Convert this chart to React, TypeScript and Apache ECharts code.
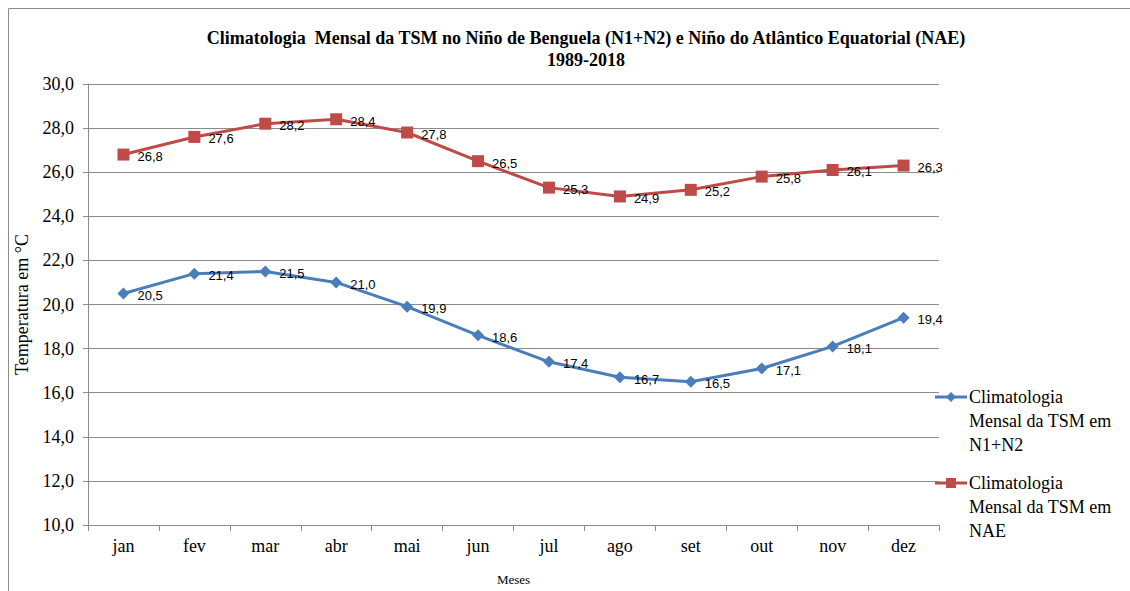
import React, { useEffect, useRef } from "react";
import * as echarts from "echarts";

const months = ["jan", "fev", "mar", "abr", "mai", "jun", "jul", "ago", "set", "out", "nov", "dez"];
const n1n2 = [20.5, 21.4, 21.5, 21.0, 19.9, 18.6, 17.4, 16.7, 16.5, 17.1, 18.1, 19.4];
const nae = [26.8, 27.6, 28.2, 28.4, 27.8, 26.5, 25.3, 24.9, 25.2, 25.8, 26.1, 26.3];
const seriesNames = ["Climatologia Mensal da TSM em N1+N2", "Climatologia Mensal da TSM em NAE"];
const legendLines = [
  ["Climatologia", "Mensal da TSM em", "N1+N2"],
  ["Climatologia", "Mensal da TSM em", "NAE"],
];
const titleText =
  "Climatologia  Mensal da TSM no Niño de Benguela (N1+N2) e Niño do Atlântico Equatorial (NAE)\n1989-2018";
const yAxisName = "Temperatura em °C";
const xAxisName = "Meses";

const BLUE = "#4A7EBB";
const RED = "#BE4B48";
const GRAY = "#8c8c8c";
const SERIF = "'Liberation Serif', 'Times New Roman', serif";
const SANS = "'Liberation Sans', Arial, sans-serif";

const fmt = (v: number) => v.toFixed(1).replace(".", ",");

export default function App() {
  const ref = useRef<HTMLDivElement>(null);
  useEffect(() => {
    if (!ref.current) return;
    const chart = echarts.init(ref.current, null, { renderer: "svg" });
    const legendGraphic = (idx: number, y0: number, color: string, symbol: "diamond" | "square") => {
      const children: any[] = [
        { type: "line", shape: { x1: 935, y1: y0, x2: 967, y2: y0 }, style: { stroke: color, lineWidth: 3 } },
        symbol === "square"
          ? { type: "rect", shape: { x: 946, y: y0 - 5, width: 10, height: 10 }, style: { fill: color } }
          : {
              type: "polygon",
              shape: { points: [[951, y0 - 5], [956, y0], [951, y0 + 5], [946, y0]] },
              style: { fill: color },
            },
      ];
      legendLines[idx].forEach((t, i) => {
        children.push({
          type: "text",
          x: 969,
          y: y0 + i * 24,
          style: { text: t, font: `18px ${SERIF}`, fill: "#000", textAlign: "left", textVerticalAlign: "middle" },
        });
      });
      return children;
    };
    chart.setOption({
      animation: false,
      backgroundColor: "#fff",
      grid: { left: 88, right: 191, top: 84, bottom: 60, containLabel: false },
      xAxis: {
        type: "category",
        data: months,
        boundaryGap: true,
        name: xAxisName,
        nameLocation: "middle",
        nameGap: 48,
        nameTextStyle: { fontFamily: SERIF, fontSize: 13, color: "#000" },
        axisLine: { show: true, lineStyle: { color: GRAY, width: 1 } },
        axisTick: { show: true, length: 6, lineStyle: { color: GRAY } },
        axisLabel: { fontFamily: SERIF, fontSize: 18, color: "#000", margin: 12 },
        splitLine: { show: false },
      },
      yAxis: {
        type: "value",
        min: 10,
        max: 30,
        interval: 2,
        name: yAxisName,
        nameLocation: "middle",
        nameGap: 57,
        nameRotate: 90,
        nameTextStyle: { fontFamily: SERIF, fontSize: 18, color: "#000" },
        axisLine: { show: true, lineStyle: { color: GRAY, width: 1 } },
        axisTick: { show: true, length: 5, lineStyle: { color: GRAY } },
        axisLabel: { fontFamily: SERIF, fontSize: 18, color: "#000", margin: 14, formatter: (v: number) => fmt(v) },
        splitLine: { show: true, lineStyle: { color: GRAY, width: 1 } },
      },
      series: [
        {
          name: seriesNames[0],
          type: "line",
          data: n1n2,
          symbol: "diamond",
          symbolSize: 12,
          itemStyle: { color: BLUE },
          lineStyle: { color: BLUE, width: 3 },
          label: {
            show: true,
            position: "right",
            distance: 8,
            offset: [0, 2],
            formatter: (p: any) => fmt(p.value),
            fontFamily: SANS,
            fontSize: 13,
            color: "#000",
          },
        },
        {
          name: seriesNames[1],
          type: "line",
          data: nae,
          symbol: "rect",
          symbolSize: 12,
          itemStyle: { color: RED },
          lineStyle: { color: RED, width: 3 },
          label: {
            show: true,
            position: "right",
            distance: 8,
            offset: [0, 2],
            formatter: (p: any) => fmt(p.value),
            fontFamily: SANS,
            fontSize: 13,
            color: "#000",
          },
        },
      ],
      graphic: [
        { type: "line", shape: { x1: 8.5, y1: 8.5, x2: 1130, y2: 8.5 }, style: { stroke: GRAY, lineWidth: 1 } },
        { type: "line", shape: { x1: 8.5, y1: 8.5, x2: 8.5, y2: 591 }, style: { stroke: GRAY, lineWidth: 1 } },
        {
          type: "text",
          x: 586,
          y: 27,
          style: {
            text: titleText,
            font: `bold 18px ${SERIF}`,
            fill: "#000",
            textAlign: "center",
            textVerticalAlign: "top",
            lineHeight: 22,
          },
        },
        ...legendGraphic(0, 397, BLUE, "diamond"),
        ...legendGraphic(1, 483, RED, "square"),
      ],
    });
    return () => chart.dispose();
  }, []);
  return <div ref={ref} style={{ position: "absolute", left: 0, top: 0, width: 1130, height: 591 }} />;
}
